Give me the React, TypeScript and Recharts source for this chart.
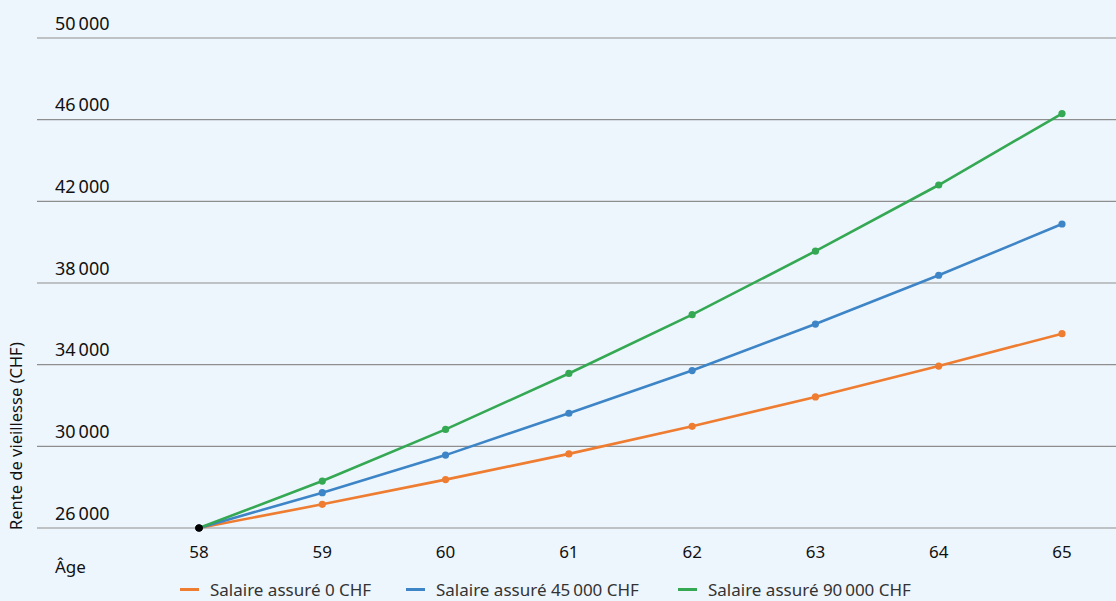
import { LineChart, Line, XAxis, YAxis, CartesianGrid, Legend } from 'recharts';

const ages = [58, 59, 60, 61, 62, 63, 64, 65];
const salaire0 = [26000, 27160, 28370, 29630, 30980, 32420, 33930, 35520];
const salaire45 = [26000, 27730, 29570, 31620, 33710, 35990, 38380, 40890];
const salaire90 = [26000, 28300, 30830, 33570, 36450, 39560, 42800, 46300];
const yTicks = [26000, 30000, 34000, 38000, 42000, 46000, 50000];

const seriesNames = ['Salaire assuré 0 CHF', 'Salaire assuré 45\u202f000 CHF', 'Salaire assuré 90\u202f000 CHF'];
const colors = ['#ee7d31', '#3d85c6', '#34a853'];

const data = ages.map((age, i) => ({
  age,
  s0: salaire0[i],
  s45: salaire45[i],
  s90: salaire90[i],
}));

const font = '"Noto Sans", "Open Sans", sans-serif';

const fmt = (v: number) => {
  const s = String(v);
  return s.length > 3 ? s.slice(0, -3) + '\u202f' + s.slice(-3) : s;
};

const makeDot = (color: string) => (props: any) => {
  const { cx, cy, index } = props;
  return <circle key={`d-${index}`} cx={cx} cy={cy} r={3.6} fill={index === 0 ? '#000' : color} stroke="none" />;
};

const YTick = (props: any) => {
  const { y, payload } = props;
  return (
    <text x={55} y={y - 13} fill="#111" fontSize={18} fontFamily={font} dominantBaseline="middle">
      {fmt(payload.value)}
    </text>
  );
};

const XTick = (props: any) => {
  const { x, y, payload } = props;
  return (
    <text x={x} y={y + 17} fill="#111" fontSize={17} fontFamily={font} textAnchor="middle" dominantBaseline="middle">
      {payload.value}
    </text>
  );
};

const LegendContent = () => {
  const lefts = [180, 406, 678];
  return (
    <div style={{ position: 'relative', height: 24, width: 1116, fontFamily: font, fontSize: 17, color: '#333' }}>
      {seriesNames.map((n, i) => (
        <div key={n} style={{ position: 'absolute', left: lefts[i], top: 0, display: 'flex', alignItems: 'center', whiteSpace: 'nowrap' }}>
          <span style={{ display: 'inline-block', width: 19, height: 3, background: colors[i], marginRight: 11 }} />
          <span>{n}</span>
        </div>
      ))}
    </div>
  );
};

export default function App() {
  return (
    <div style={{ position: 'absolute', left: 0, top: 0, width: 1116, height: 601, background: '#eef6fd' }}>
      <LineChart width={1116} height={601} data={data} margin={{ top: 38, right: 0, left: 0, bottom: 33 }}>
        <CartesianGrid vertical={false} stroke="#8e8e8e" strokeWidth={1.2} />
        <XAxis
          dataKey="age"
          height={40}
          axisLine={false}
          tickLine={false}
          padding={{ left: 162, right: 54 }}
          tick={<XTick />}
          label={{
            content: () => (
              <text x={55} y={568} fill="#111" fontSize={17} fontFamily={font} dominantBaseline="middle">
                Âge
              </text>
            ),
          }}
        />
        <YAxis
          width={37}
          domain={[26000, 50000]}
          ticks={yTicks}
          axisLine={false}
          tickLine={false}
          tick={<YTick />}
          label={{
            content: () => (
              <text
                x={18}
                y={436}
                fill="#111"
                fontSize={16.5}
                fontFamily={font}
                textAnchor="middle"
                dominantBaseline="middle"
                transform="rotate(-90 18 436)"
              >
                Rente de vieillesse (CHF)
              </text>
            ),
          }}
        />
        <Legend
          layout="horizontal"
          verticalAlign="middle"
          content={<LegendContent />}
          wrapperStyle={{ top: 578, left: 0, width: 1116 }}
        />
        <Line type="linear" dataKey="s0" name={seriesNames[0]} stroke={colors[0]} strokeWidth={2.6} dot={makeDot(colors[0])} activeDot={false} isAnimationActive={false} />
        <Line type="linear" dataKey="s45" name={seriesNames[1]} stroke={colors[1]} strokeWidth={2.6} dot={makeDot(colors[1])} activeDot={false} isAnimationActive={false} />
        <Line type="linear" dataKey="s90" name={seriesNames[2]} stroke={colors[2]} strokeWidth={2.6} dot={makeDot(colors[2])} activeDot={false} isAnimationActive={false} />
      </LineChart>
    </div>
  );
}
